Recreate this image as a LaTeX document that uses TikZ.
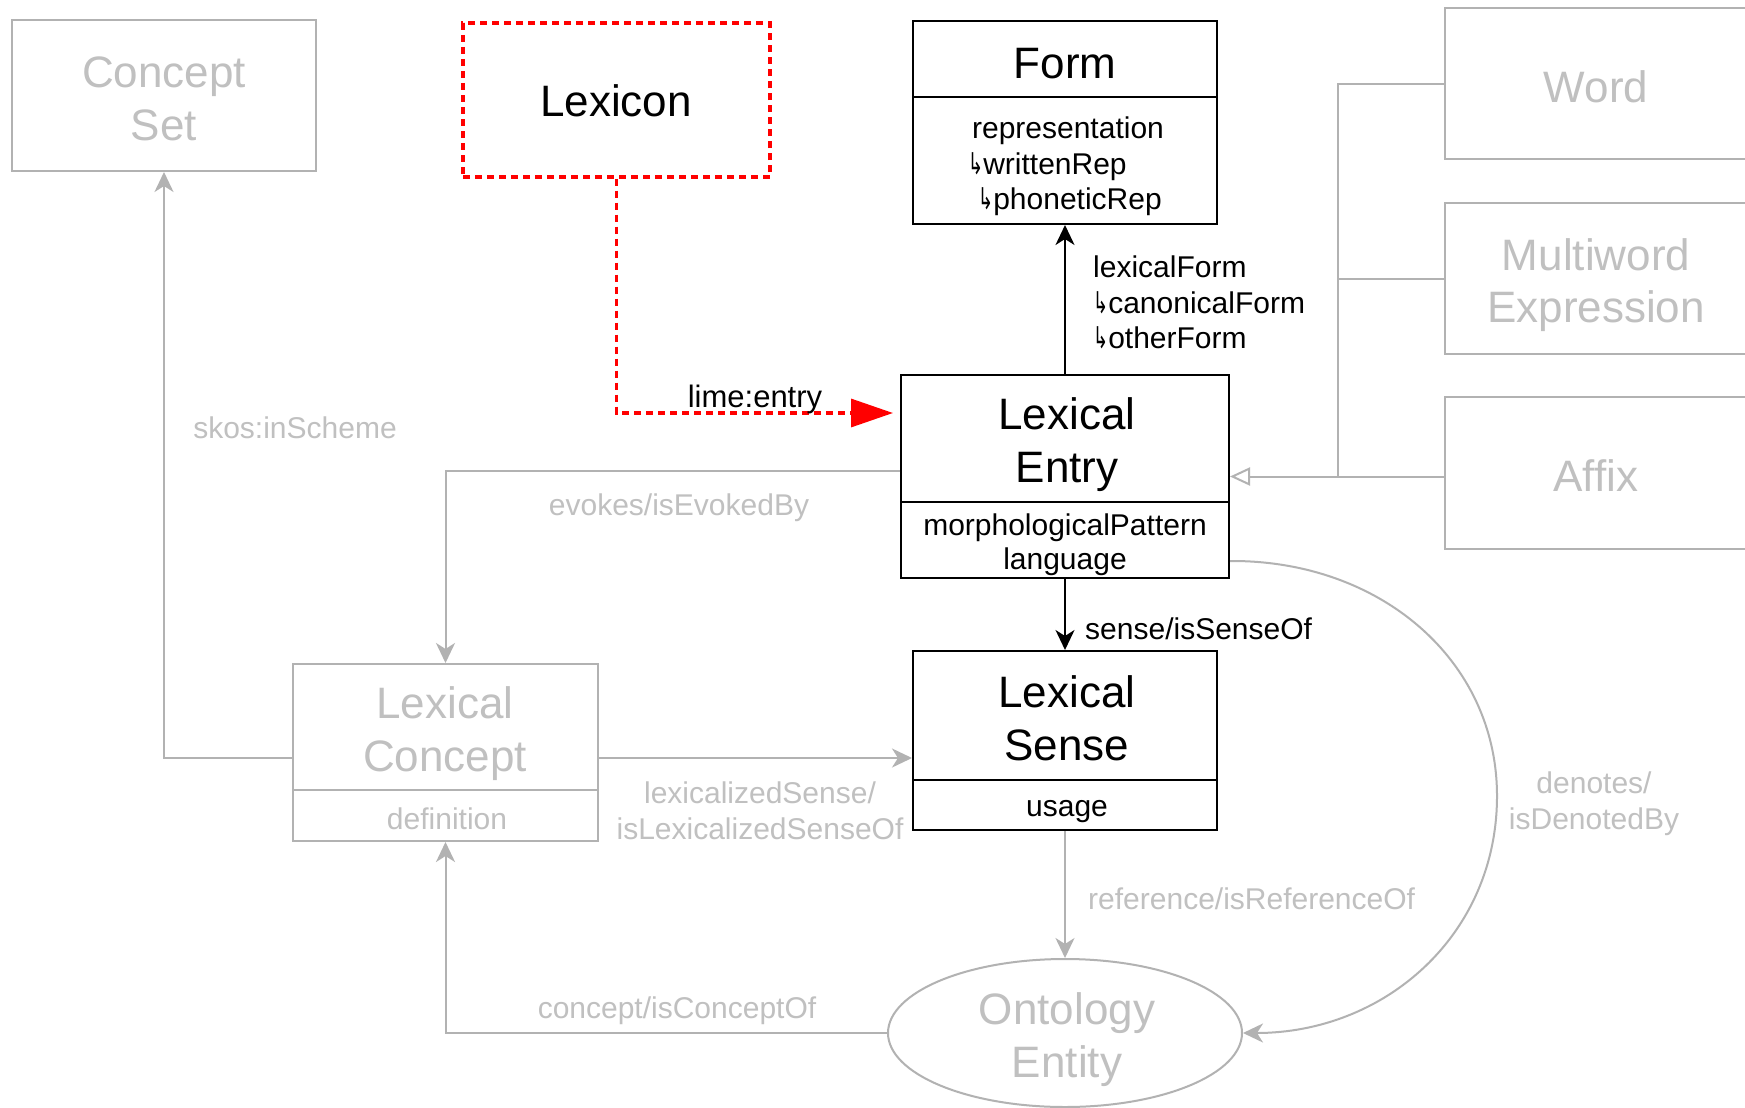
\documentclass[tikz,border=0pt]{standalone}
\usepackage{fontspec}
\usepackage{graphicx}
\setmainfont{Liberation Sans}
\newfontfamily\djv{DejaVu Sans}
\usetikzlibrary{arrows.meta,calc,shapes.geometric}
\definecolor{lgray}{RGB}{178,178,178}
\definecolor{tgray}{RGB}{192,192,192}
\newcommand{\hookarr}{{\djv\scalebox{0.6}[1]{↳}}}
\begin{document}
\begin{tikzpicture}[x=1pt,y=-1pt,
  blackbox/.style={draw=black, line width=2pt, inner sep=0pt},
  greybox/.style={draw=lgray, line width=2pt, inner sep=0pt},
  ttl/.style={font=\fontsize{44}{53}\selectfont, inner sep=0pt, anchor=base},
  attrtxt/.style={font=\fontsize{30}{36}\selectfont, inner sep=0pt, anchor=base},
  blk/.style={line width=2pt, -{Stealth[length=20pt,width=19pt,inset=6pt]}},
  gry/.style={draw=lgray, line width=2pt, -{Stealth[length=20pt,width=19pt,inset=6pt]}},
  reddot/.style={draw=red, line width=3.3pt, dash pattern=on 7pt off 5pt}
]
\useasboundingbox (0,0) rectangle (1745,1108);
\fill[white] (0,0) rectangle (1745,1108);

% ---- boxes ----
\node[greybox, minimum width=304, minimum height=151] (CS) at (164,95.5) {};
\node[reddot, inner sep=0pt, minimum width=307, minimum height=154] (Lexicon) at (616.5,100) {};
\node[blackbox, minimum width=304, minimum height=203] (Form) at (1065,122.5) {};
\node[greybox, minimum width=305, minimum height=151] (Word) at (1597.5,83.5) {};
\node[greybox, minimum width=305, minimum height=151] (MWE) at (1597.5,278.5) {};
\node[greybox, minimum width=305, minimum height=152] (Affix) at (1597.5,473) {};
\node[blackbox, minimum width=328, minimum height=203] (LE) at (1065,476.5) {};
\node[blackbox, minimum width=304, minimum height=179] (LS) at (1065,740.5) {};
\node[greybox, minimum width=305, minimum height=177] (LC) at (445.5,752.5) {};
\node[draw=lgray, line width=2pt, ellipse, inner sep=0pt, minimum width=354, minimum height=148] (OE) at (1065,1033) {};

% ---- dividers ----
\draw[line width=2pt] (Form.west |- 0,97) -- (Form.east |- 0,97);
\draw[line width=2pt] (LE.west |- 0,502) -- (LE.east |- 0,502);
\draw[line width=2pt] (LS.west |- 0,780) -- (LS.east |- 0,780);
\draw[lgray, line width=2pt] (LC.west |- 0,790) -- (LC.east |- 0,790);

% ---- box texts ----
\node[ttl, tgray] (csA) at (164,87) {Concept};
\node[ttl, tgray] (csB) at (164,140) {Set};
\node[ttl] (lexT) at (616,116) {Lexicon};
\node[ttl] (formT) at (1065,78) {Form};
\node[attrtxt] (fa1) at (1068,138) {representation};
\node[attrtxt, anchor=base west] (fa2) at (968,174) {\hookarr writtenRep};
\node[attrtxt, anchor=base west] (fa3) at (978,209) {\hookarr phoneticRep};
\node[ttl, tgray] (wordT) at (1596,102) {Word};
\node[ttl, tgray] (mweA) at (1596,270) {Multiword};
\node[ttl, tgray] (mweB) at (1596,322) {Expression};
\node[ttl, tgray] (affT) at (1596,491) {Affix};
\node[ttl] (leA) at (1067,429) {Lexical};
\node[ttl] (leB) at (1067,482) {Entry};
\node[attrtxt] (lea1) at (1065,535) {morphologicalPattern};
\node[attrtxt] (lea2) at (1065,569) {language};
\node[ttl] (lsA) at (1067,707) {Lexical};
\node[ttl] (lsB) at (1067,760) {Sense};
\node[attrtxt] (lsa1) at (1067,816) {usage};
\node[ttl, tgray] (lcA) at (445,718) {Lexical};
\node[ttl, tgray] (lcB) at (445,771) {Concept};
\node[attrtxt, tgray] (lca1) at (447,829) {definition};
\node[ttl, tgray] (oeA) at (1067,1024) {Ontology};
\node[ttl, tgray] (oeB) at (1067,1077) {Entity};

% ---- connectors ----
\draw[blk] (LE.north) -- (Form.south);
\draw[blk] (LE.south) -- (LS.north);
\draw[gry] (LS.south) -- (OE.north);
\draw[gry] (LC.west |- 0,758) -| (CS.south);
\draw[gry] (LC.east |- 0,758) -- (LS.west |- 0,758);
\draw[gry] (LE.west |- 0,471) -| (LC.north);
\draw[gry] (OE.west) -| (LC.south);
\draw[gry] ($(LE.south east)+(0,-18)$) .. controls (1380,560) and (1497,660) .. (1497,796)
   .. controls (1497,935) and (1385,1033) .. (OE.east);
\draw[reddot, shorten >=7pt, -{Triangle[length=42pt,width=28pt,fill=red]}]
   (Lexicon.south) |- (LE.west |- 0,413);

% inheritance
\coordinate (J3) at (1338,476.5);
\draw[lgray, line width=2pt] (Word.west) -| (J3);
\draw[lgray, line width=2pt] (MWE.west) -- (MWE.west -| J3);
\draw[lgray, line width=2pt, -{Triangle[length=20pt,width=18pt,fill=white]}] (Affix.west |- LE.east) -- (LE.east);

% ---- connector labels ----
\node[attrtxt, anchor=base west] (lf1) at (1093,277) {lexicalForm};
\node[attrtxt, anchor=base west] (lf2) at (1093,313) {\hookarr canonicalForm};
\node[attrtxt, anchor=base west] (lf3) at (1093,348) {\hookarr otherForm};
\node[attrtxt, anchor=base west] (sen) at (1085,639) {sense/isSenseOf};
\node[attrtxt, tgray] (skos) at (295,438) {skos:inScheme};
\node[attrtxt, font=\fontsize{31}{36}\selectfont] (lime) at (755,407) {lime:entry};
\node[attrtxt, tgray] (evk) at (679,515) {evokes/isEvokedBy};
\node[attrtxt, tgray] (lxs1) at (760,803) {lexicalizedSense/};
\node[attrtxt, tgray] (lxs2) at (760,839) {isLexicalizedSenseOf};
\node[attrtxt, tgray, anchor=base west] (ref) at (1088,909) {reference/isReferenceOf};
\node[attrtxt, tgray] (cpt) at (677,1018) {concept/isConceptOf};
\node[attrtxt, tgray] (den1) at (1594,793) {denotes/};
\node[attrtxt, tgray] (den2) at (1594,829) {isDenotedBy};
\end{tikzpicture}
\end{document}
